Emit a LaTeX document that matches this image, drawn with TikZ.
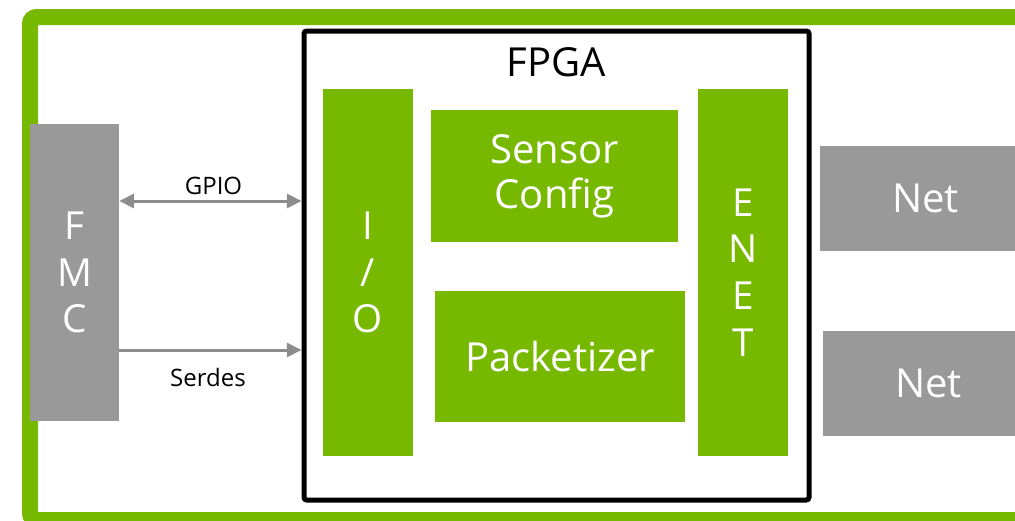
\documentclass[tikz,border=0pt]{standalone}
\usepackage{fontspec}
\setmainfont{Open Sans}
\usetikzlibrary{arrows.meta}
\definecolor{nvgreen}{RGB}{118,185,0}
\definecolor{boxgray}{RGB}{153,153,153}
\definecolor{linkgray}{RGB}{140,140,140}

\begin{document}
\begin{tikzpicture}[x=0.75pt,y=0.75pt,yscale=-1,
	greenbox/.style={fill=nvgreen, text=white, inner sep=0pt, align=center},
	graybox/.style={fill=boxgray, text=white, inner sep=0pt, align=center},
	stackfont/.style={font=\fontsize{29}{35}\selectfont},
	boxfont/.style={font=\fontsize{30}{34}\selectfont},
	linkarrow/.style={draw=linkgray, line width=2.25pt, >={Triangle[length=11pt,width=10.5pt]}},
	linklabel/.style={font=\fontsize{18}{22}\selectfont}]
				\clip (0,0) rectangle (1015,521);
				
				%Shape: Rectangle (outer frame)
				\draw [color=nvgreen, line width=12pt, rounded corners=5pt] (30,17) rectangle (1060,520) ;
				%Shape: Rectangle (FPGA)
				\node [draw=black, line width=3.75pt, rounded corners=2pt, minimum width=378.75pt, minimum height=351.75pt] (fpga) at (556.5,265.5) {};
				\node [font=\fontsize{30}{36}\selectfont] (fpgatitle) at (556,62) {FPGA};
				
				%Shape: Rectangle (FMC)
				\node [graybox, stackfont, minimum width=66.75pt, minimum height=222.75pt] (fmc) at (74.5,272.5) {F\\M\\C};
				%Shape: Rectangle (I/O)
				\node [greenbox, stackfont, minimum width=67.5pt, minimum height=275.25pt] (io) at (368,272.5) {I\\/\\O};
				%Shape: Rectangle (ENET)
				\node [greenbox, stackfont, minimum width=67.5pt, minimum height=275.25pt] (enet) at (743,272.5) {E\\N\\E\\T};
				%Shape: Rectangle (Sensor Config)
				\node [greenbox, boxfont, minimum width=185.25pt, minimum height=99pt] (sensor) at (554.5,176) {Sensor\\Config};
				%Shape: Rectangle (Packetizer)
				\node [greenbox, boxfont, minimum width=187.5pt, minimum height=98.25pt] (packet) at (560,356.5) {Packetizer};
				%Shape: Rectangle (Net)
				\node [graybox, boxfont, minimum width=158.25pt, minimum height=78.75pt] (neta) at (925.5,198.5) {Net};
				\node [graybox, boxfont, minimum width=158.25pt, minimum height=78.75pt] (netb) at (928.5,383.5) {Net};
				
				%Straight Lines
				\coordinate (gpioy) at (0,201);
				\coordinate (serdesy) at (0,350);
				\draw [linkarrow, <->] (fmc.east |- gpioy) -- (fpga.west |- gpioy) ;
				\draw [linkarrow, ->] (fmc.east |- serdesy) -- (fpga.west |- serdesy) ;
				\node [linklabel] (gpio) at (213.5,186) {GPIO};
				\node [linklabel] (serdes) at (208,377) {Serdes};
				
			\end{tikzpicture}
\end{document}
